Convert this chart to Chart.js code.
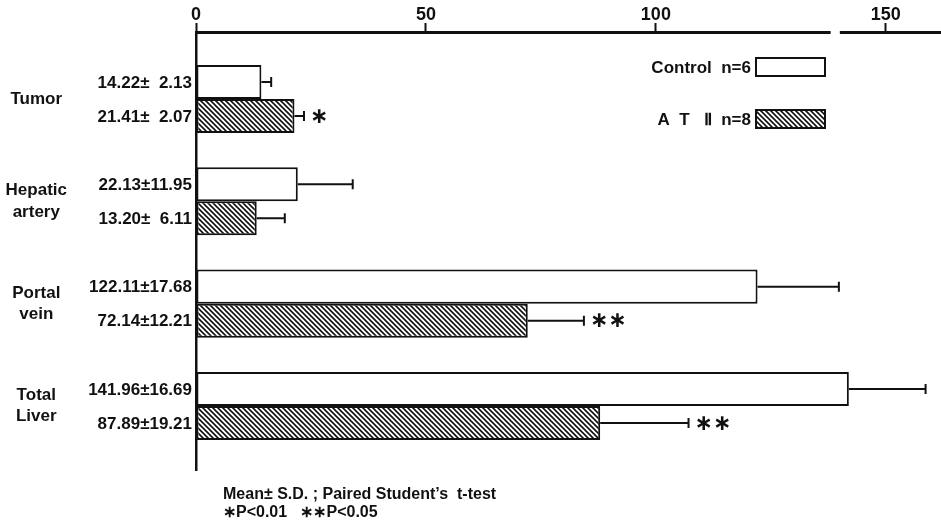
<!DOCTYPE html>
<html>
<head>
<meta charset="utf-8">
<script src="https://cdn.jsdelivr.net/npm/chart.js@4/dist/chart.umd.min.js"></script>
<style>
  html, body { margin: 0; padding: 0; background: #fff; overflow: hidden; }
  canvas { display: block; }
</style>
</head>
<body>
<canvas id="flowChart" width="941" height="529"></canvas>
<script>
const categories = [['Tumor'], ['Hepatic', 'artery'], ['Portal', 'vein'], ['Total', 'Liver']];
const controlMean = [14.22, 22.13, 122.11, 141.96];
const controlSD = [2.13, 11.95, 17.68, 16.69];
const at2Mean = [21.41, 13.20, 72.14, 87.89];
const at2SD = [2.07, 6.11, 12.21, 19.21];
const at2Sig = ['∗', '', '∗∗', '∗∗'];
const xTicks = [0, 50, 100, 150];
const seriesNames = ['Control  n=6', 'A  T   Ⅱ  n=8'];
const noteLines = ['Mean± S.D. ; Paired Student\u2019s  t-test', '∗P<0.01   ∗∗P<0.05'];

const FONT = '"Liberation Sans", Arial, sans-serif';
const Y_MIN = -0.655, Y_MAX = 3.626;

// diagonal hatch like the printed figure
function makeHatch() {
  const s = 5;
  const c = document.createElement('canvas');
  c.width = s; c.height = s;
  const g = c.getContext('2d');
  g.fillStyle = '#fff';
  g.fillRect(0, 0, s, s);
  g.strokeStyle = '#111';
  g.lineWidth = 1.6;
  for (let k = -1; k <= 1; k++) {
    g.beginPath();
    g.moveTo(k * s - 1, -1);
    g.lineTo(k * s + s + 1, s + 1);
    g.stroke();
  }
  return document.getElementById('flowChart').getContext('2d').createPattern(c, 'repeat');
}
const hatch = makeHatch();

function fmt(m, sd) {
  const s = sd.toFixed(2);
  return m.toFixed(2) + '±' + (s.length < 5 ? '  ' : '') + s;
}

const extras = {
  id: 'extras',
  afterDatasetsDraw(chart) {
    const ctx = chart.ctx;
    const xs = chart.scales.x;
    const area = chart.chartArea;
    const sets = [[controlMean, controlSD], [at2Mean, at2SD]];
    ctx.save();
    ctx.strokeStyle = '#111';
    ctx.fillStyle = '#111';
    ctx.lineWidth = 2;
    sets.forEach((pair, d) => {
      const meta = chart.getDatasetMeta(d);
      meta.data.forEach((bar, i) => {
        const x0 = xs.getPixelForValue(pair[0][i]);
        const x1 = xs.getPixelForValue(pair[0][i] + pair[1][i]);
        ctx.beginPath();
        ctx.moveTo(x0, bar.y);
        ctx.lineTo(x1, bar.y);
        ctx.moveTo(x1, bar.y - 5);
        ctx.lineTo(x1, bar.y + 5);
        ctx.stroke();
        // value labels left of the axis
        ctx.font = 'bold 17px ' + FONT;
        ctx.textAlign = 'right';
        ctx.textBaseline = 'middle';
        ctx.fillText(fmt(pair[0][i], pair[1][i]), area.left - 4, bar.y + 1);
        if (d === 1 && at2Sig[i]) {
          ctx.font = 'bold 22px "DejaVu Sans", sans-serif';
          ctx.textAlign = 'left';
          ctx.fillText(at2Sig[i], x1 + 6, bar.y + 1);
        }
      });
    });

    // axis break on the top line
    const b0 = xs.getPixelForValue(138);
    const b1 = xs.getPixelForValue(140);
    ctx.fillStyle = '#fff';
    ctx.fillRect(b0, area.top - 4, b1 - b0, 8);

    // legend boxes
    const fills = ['#fff', hatch];
    seriesNames.forEach((name, k) => {
      const bx = area.right - 185;
      const by = area.top + 26 + k * 52;
      ctx.fillStyle = fills[k];
      ctx.fillRect(bx, by, 69, 18);
      ctx.lineWidth = 2;
      ctx.strokeStyle = '#111';
      ctx.strokeRect(bx, by, 69, 18);
      ctx.fillStyle = '#111';
      ctx.font = 'bold 17px ' + FONT;
      ctx.textAlign = 'right';
      ctx.textBaseline = 'middle';
      ctx.fillText(name, bx - 5, by + 10);
    });

    // footnote
    ctx.font = 'bold 16px ' + FONT;
    ctx.textAlign = 'left';
    ctx.textBaseline = 'middle';
    noteLines.forEach((t, k) => ctx.fillText(t, area.left + 27, area.bottom + 25 + k * 18));
    ctx.restore();
  }
};

new Chart(document.getElementById('flowChart'), {
  type: 'bar',
  data: {
    datasets: [
      {
        label: seriesNames[0],
        data: controlMean.map((v, i) => ({ x: v, y: i })),
        backgroundColor: '#fff',
        borderColor: '#111',
        borderWidth: 2,
        borderSkipped: false
      },
      {
        label: seriesNames[1],
        data: at2Mean.map((v, i) => ({ x: v, y: i })),
        backgroundColor: hatch,
        borderColor: '#111',
        borderWidth: 2,
        borderSkipped: false
      }
    ]
  },
  options: {
    indexAxis: 'y',
    responsive: false,
    animation: false,
    devicePixelRatio: 1,
    categoryPercentage: 0.665,
    barPercentage: 1,
    layout: { padding: { left: 0, right: 0, top: 0, bottom: 59 } },
    plugins: { legend: { display: false }, tooltip: { enabled: false } },
    scales: {
      x: {
        type: 'linear',
        position: 'top',
        min: 0,
        max: 162,
        afterBuildTicks: (s) => { s.ticks = xTicks.map(v => ({ value: v })); },
        afterFit: (s) => { s.height = 32; s.paddingLeft = 0; s.paddingRight = 0; },
        ticks: {
          color: '#111',
          padding: -3,
          font: { family: FONT, size: 18, weight: 'bold' }
        },
        grid: { drawOnChartArea: false, tickLength: 9, tickWidth: 2, tickColor: '#111' },
        border: { color: '#111', width: 3 }
      },
      y: {
        type: 'linear',
        reverse: true,
        offset: false,
        bounds: 'data',
        grace: 0,
        min: Y_MIN,
        max: Y_MAX,
        afterDataLimits: (s) => { s.min = Y_MIN; s.max = Y_MAX; },
        afterBuildTicks: (s) => {
          s.ticks = categories.map((c, i) => ({ value: i }));
          s.min = Y_MIN; s.max = Y_MAX;
        },
        afterFit: (s) => { s.width = 196; s.paddingTop = 0; s.paddingBottom = 0; },
        ticks: {
          color: '#111',
          crossAlign: 'center',
          padding: 129,
          font: { family: FONT, size: 17, weight: 'bold', lineHeight: 1.25 },
          callback: (v) => categories[v]
        },
        grid: { display: false, drawTicks: false },
        border: { color: '#111', width: 2.5 }
      }
    }
  },
  plugins: [extras]
});
</script>
</body>
</html>
